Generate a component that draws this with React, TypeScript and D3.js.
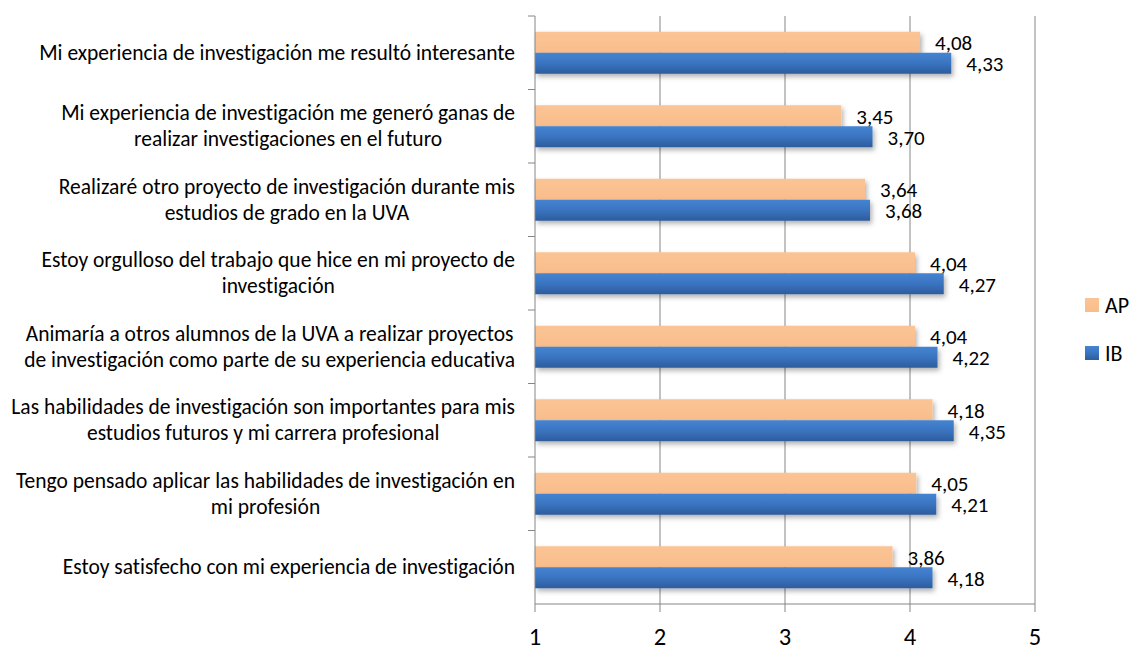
import React, { useEffect, useRef } from "react";
import * as d3 from "d3";

const categories: string[][] = [
  ["Mi experiencia de investigación me resultó interesante"],
  ["Mi experiencia de investigación me generó ganas de", "realizar investigaciones en el futuro"],
  ["Realizaré otro proyecto de investigación durante mis", "estudios de grado en la UVA"],
  ["Estoy orgulloso del trabajo que hice en mi proyecto de", "investigación"],
  ["Animaría a otros alumnos de la UVA a realizar proyectos", "de investigación como parte de su experiencia educativa"],
  ["Las habilidades de investigación son importantes para mis", "estudios futuros y mi carrera profesional"],
  ["Tengo pensado aplicar las habilidades de investigación en", "mi profesión"],
  ["Estoy satisfecho con mi experiencia de investigación"],
];
const apValues = [4.08, 3.45, 3.64, 4.04, 4.04, 4.18, 4.05, 3.86];
const ibValues = [4.33, 3.7, 3.68, 4.27, 4.22, 4.35, 4.21, 4.18];
const seriesNames = ["AP", "IB"];
const xTicks = [1, 2, 3, 4, 5];

const W = 1137;
const H = 648;
const FONT = "Carlito, Lato, 'Liberation Sans', sans-serif";

export default function App() {
  const ref = useRef<SVGSVGElement>(null);

  useEffect(() => {
    const svg = d3.select(ref.current!);
    svg.selectAll("*").remove();

    const left = 535, right = 1035, top = 16, bottom = 604;
    const x = d3.scaleLinear().domain([1, 5]).range([left, right]);
    const y = d3.scaleBand<number>().domain(d3.range(categories.length)).range([top, bottom]).paddingInner(0).paddingOuter(0);
    const bw = y.bandwidth();
    const barH = bw / 3.5;

    const defs = svg.append("defs");
    const gBlue = defs.append("linearGradient").attr("id", "gBlue").attr("x1", 0).attr("y1", 0).attr("x2", 0).attr("y2", 1);
    gBlue.append("stop").attr("offset", "0%").attr("stop-color", "#4584d2");
    gBlue.append("stop").attr("offset", "50%").attr("stop-color", "#3a74c0");
    gBlue.append("stop").attr("offset", "100%").attr("stop-color", "#2d5c9c");
    const gOr = defs.append("linearGradient").attr("id", "gOr").attr("x1", 0).attr("y1", 0).attr("x2", 0).attr("y2", 1);
    gOr.append("stop").attr("offset", "0%").attr("stop-color", "#fbc495");
    gOr.append("stop").attr("offset", "100%").attr("stop-color", "#f9bd8b");
    const f = defs.append("filter").attr("id", "sh").attr("x", "-5%").attr("y", "-30%").attr("width", "115%").attr("height", "180%");
    f.append("feDropShadow").attr("dx", 2).attr("dy", 3).attr("stdDeviation", 2.5).attr("flood-color", "#000").attr("flood-opacity", 0.3);

    // gridlines
    svg.append("g").selectAll("line").data(xTicks.slice(1)).join("line")
      .attr("x1", (d) => x(d)).attr("x2", (d) => x(d))
      .attr("y1", top).attr("y2", bottom)
      .attr("stroke", "#868686").attr("stroke-width", 1);

    // bars
    const bars = svg.append("g");
    categories.forEach((_, i) => {
      const y0 = y(i)! + (bw - 2 * barH) / 2;
      bars.append("rect").attr("x", left).attr("y", y0).attr("width", x(apValues[i]) - left).attr("height", barH)
        .attr("fill", "url(#gOr)").attr("filter", "url(#sh)");
      bars.append("rect").attr("x", left).attr("y", y0 + barH).attr("width", x(ibValues[i]) - left).attr("height", barH)
        .attr("fill", "url(#gBlue)").attr("filter", "url(#sh)");
    });

    // axes
    svg.append("line").attr("x1", left).attr("x2", left).attr("y1", top).attr("y2", bottom).attr("stroke", "#868686");
    svg.append("line").attr("x1", left).attr("x2", right).attr("y1", bottom).attr("y2", bottom).attr("stroke", "#868686");
    svg.append("g").selectAll("line").data(d3.range(categories.length)).join("line")
      .attr("x1", left - 7).attr("x2", left).attr("y1", (d) => y(d)!).attr("y2", (d) => y(d)!)
      .attr("stroke", "#868686");
    svg.append("g").selectAll("line").data(xTicks).join("line")
      .attr("x1", (d) => x(d)).attr("x2", (d) => x(d)).attr("y1", bottom).attr("y2", bottom + 8)
      .attr("stroke", "#868686");
    svg.append("g").selectAll("text").data(xTicks).join("text")
      .attr("x", (d) => x(d)).attr("y", 645).attr("text-anchor", "middle")
      .attr("font-family", FONT).attr("font-size", 24.5).attr("fill", "#000").text((d) => String(d));

    // value labels
    const fmt = (v: number) => v.toFixed(2).replace(".", ",");
    const vl = svg.append("g").attr("font-family", FONT).attr("font-size", 21).attr("fill", "#000");
    categories.forEach((_, i) => {
      const y0 = y(i)! + (bw - 2 * barH) / 2;
      vl.append("text").attr("x", x(apValues[i]) + 15).attr("y", y0 + barH / 2 + 1).attr("dominant-baseline", "central").text(fmt(apValues[i]));
      vl.append("text").attr("x", x(ibValues[i]) + 15).attr("y", y0 + barH * 1.5 + 1).attr("dominant-baseline", "central").text(fmt(ibValues[i]));
    });

    // category labels
    const labelRight = 515;
    const cl = svg.append("g").attr("font-family", FONT).attr("font-size", 21.5).attr("fill", "#000");
    categories.forEach((lines, i) => {
      const cy = y(i)! + bw / 2;
      const g = cl.append("g");
      const texts = lines.map((ln, j) =>
        g.append("text").attr("y", cy + (j - (lines.length - 1) / 2) * 26).attr("dominant-baseline", "central")
          .attr("text-anchor", "middle")
          .style("font-variant-ligatures", "none")
          .style("font-feature-settings", "'liga' 0, 'clig' 0, 'dlig' 0")
          .text(ln)
      );
      const maxW = d3.max(texts, (t) => (t.node() as SVGTextElement).getComputedTextLength()) || 0;
      texts.forEach((t) => t.attr("x", labelRight - maxW / 2));
    });

    // legend
    const lg = svg.append("g").attr("font-family", FONT).attr("font-size", 22);
    seriesNames.forEach((s, i) => {
      const ly = 305 + i * 48;
      lg.append("rect").attr("x", 1085).attr("y", ly - 7).attr("width", 14).attr("height", 14)
        .attr("fill", i === 0 ? "url(#gOr)" : "url(#gBlue)");
      lg.append("text").attr("x", 1105).attr("y", ly).attr("dominant-baseline", "central").text(s);
    });
  }, []);

  return (
    <svg ref={ref} width={W} height={H} style={{ position: "absolute", left: 0, top: 0, background: "#fff" }} />
  );
}
